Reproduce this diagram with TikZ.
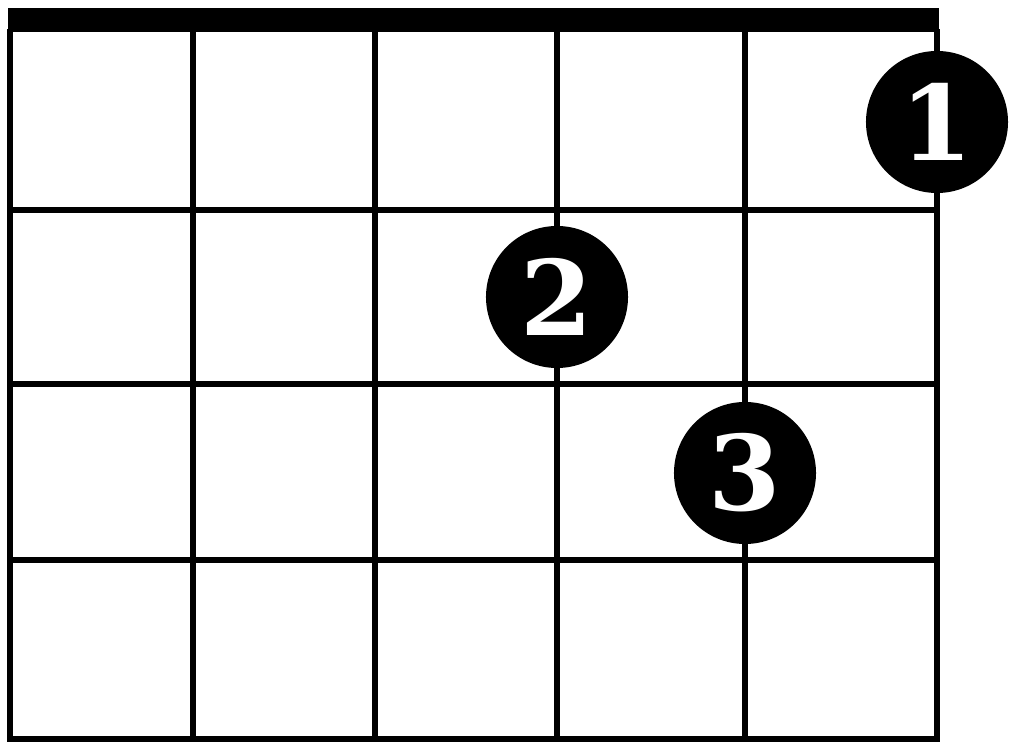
\documentclass[tikz,border=0pt]{standalone}
\usepackage{fontspec}
\usepackage{tikz}
\usetikzlibrary{positioning}
\newfontfamily\dotfont{DejaVu Serif}

\begin{document}
\begin{tikzpicture}[x=0.025cm, y=-0.025cm,
  gridline/.style={line width=3.8pt, draw=black, line cap=rect},
  nut/.style={fill=black},
  finger/.style={circle, fill=black, minimum size=3.55cm, inner sep=0pt, text=white, font=\dotfont\bfseries\fontsize{74}{74}\selectfont}
]
\useasboundingbox (0,0) rectangle (1009,747);
% nut
\fill[nut] (8,8) rectangle (939,32);
% strings and frets
\foreach \x in {10,193,375,557,745,937}
  \draw[gridline] (\x,32) -- (\x,739);
\foreach \y in {210,384,560,739}
  \draw[gridline] (10,\y) -- (937,\y);
% fingers
\node[finger] (f1) at (937,122) {1};
\node[finger] (f2) at (557,297) {2};
\node[finger] (f3) at (745,473) {3};
\end{tikzpicture}
\end{document}
